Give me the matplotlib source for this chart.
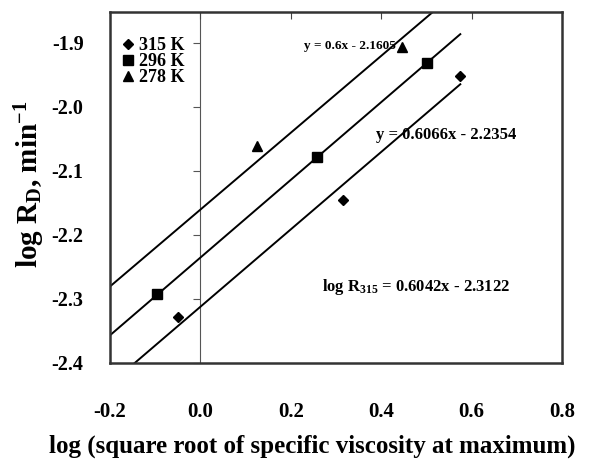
import numpy as np
import matplotlib
matplotlib.use("Agg")
import matplotlib.pyplot as plt
from matplotlib.ticker import FormatStrFormatter

plt.rcParams['font.family'] = 'Liberation Serif'
plt.rcParams['font.weight'] = 'bold'
plt.rcParams['mathtext.fontset'] = 'custom'
plt.rcParams['mathtext.rm'] = 'Liberation Serif:bold'
plt.rcParams['mathtext.it'] = 'Liberation Serif:bold'
plt.rcParams['mathtext.bf'] = 'Liberation Serif:bold'

# data
x_315 = [-0.05, 0.315, 0.575]
y_315 = [-2.328, -2.145, -1.952]
x_296 = [-0.097, 0.259, 0.502]
y_296 = [-2.292, -2.078, -1.931]
x_278 = [0.126, 0.447]
y_278 = [-2.061, -1.906]

# fitted lines (slope, intercept)
fit_278 = (0.6, -2.1605)
fit_296 = (0.6066, -2.2354)
fit_315 = (0.6042, -2.3122)
fit_xrange = [-0.2, 0.575]

xticks = [-0.2, 0.0, 0.2, 0.4, 0.6, 0.8]
yticks = [-2.4, -2.3, -2.2, -2.1, -2.0, -1.9]

fig = plt.figure(figsize=(5.9, 4.69), dpi=100)
ax = fig.add_axes([110/590, 1-363/469, 452/590, 351/469])

xs = np.array(fit_xrange)
for m, b in [fit_278, fit_296, fit_315]:
    ax.plot(xs, m*xs + b, color='black', lw=1.4, zorder=2)

ax.plot(x_315, y_315, 'D', color='black', ms=5, ls='none', label='315 K', zorder=3)
ax.plot(x_296, y_296, 's', color='black', ms=6.5, ls='none', label='296 K', zorder=3)
ax.plot(x_278, y_278, '^', color='black', ms=6.5, ls='none', label='278 K', zorder=3)

ax.set_xlim(-0.2, 0.8)
ax.set_ylim(-2.4, -1.852)
ax.set_xticks(xticks)
ax.set_yticks(yticks)
ax.xaxis.set_major_formatter(FormatStrFormatter('%.1f'))
ax.yaxis.set_major_formatter(FormatStrFormatter('%.1f'))
ax.tick_params(axis='x', top=True, bottom=False, direction='in', length=5,
               labelsize=15, pad=28, color='#444444')
ax.tick_params(axis='y', left=False, labelsize=14.5, pad=15.5)
for s in ax.spines.values():
    s.set_linewidth(1.8)
    s.set_color('#333333')

# y axis crossing at x = 0
sec = ax.secondary_yaxis(0.2)
sec.set_yticks(yticks)
sec.tick_params(axis='y', direction='out', length=5, labelleft=False,
                color='#555555', width=0.8)
sec.spines['left'].set_linewidth(0.8)
sec.spines['left'].set_color('#555555')

ax.set_xlabel('log (square root of specific viscosity at maximum)', fontsize=18,
              fontweight='bold')
ax.xaxis.set_label_coords(0.447, -0.204)
ax.set_ylabel(r'log R$_{\mathrm{D}}$, min$^{\mathrm{-1}}$', fontsize=21, fontweight='bold')
ax.yaxis.set_label_coords(-0.14, 0.51)

ax.text(0.23, -1.905, 'y = 0.6x - 2.1605', fontsize=9.5, fontweight='bold', va='center')
ax.text(0.389, -2.044, 'y = 0.6066x - 2.2354', fontsize=12, fontweight='bold', va='center')
ax.text(0.27, -2.281, r'log R$_{\mathrm{315}}$ = 0.6042x - 2.3122', fontsize=12,
        fontweight='bold', va='center')

ax.legend(loc='upper left', bbox_to_anchor=(0.0, 0.965), frameon=False, fontsize=13,
          handlelength=0.6, handletextpad=0.3, labelspacing=-0.05, borderaxespad=0.3)

fig.savefig('out.png', dpi=100)
